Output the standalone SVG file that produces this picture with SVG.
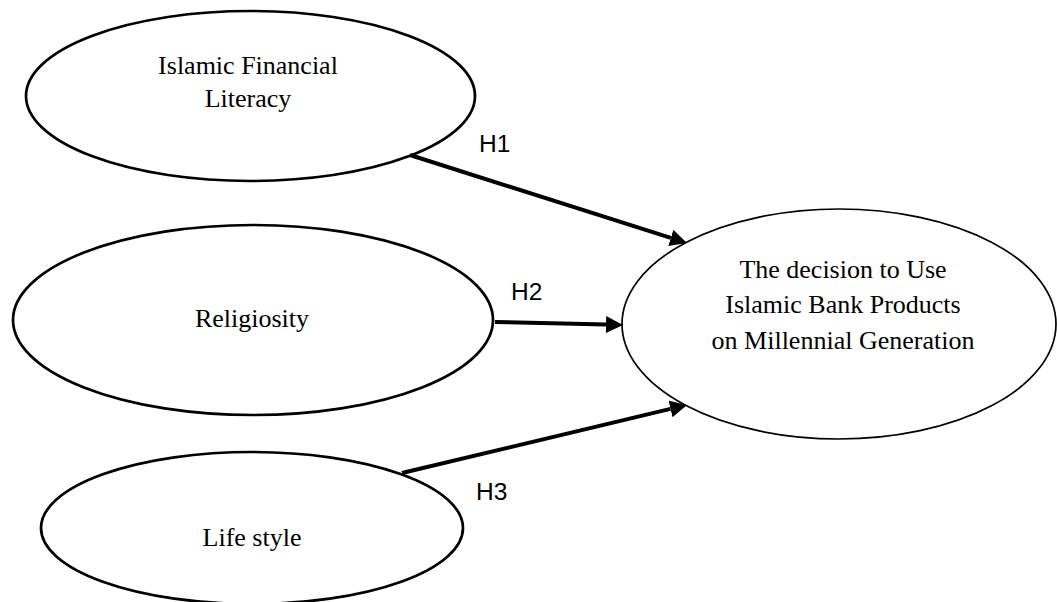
<svg xmlns="http://www.w3.org/2000/svg" width="1057" height="602" viewBox="0 0 1057 602">
<style>
.node ellipse{fill:#fff;stroke:#000;stroke-width:2.7}
.node.target ellipse{stroke-width:1.7}
.lbl{font-family:"Liberation Serif","Times New Roman",serif;font-size:26px;fill:#000;text-anchor:middle}
.hyp{font-family:"Liberation Sans",Arial,sans-serif;font-size:24.5px;fill:#000}
.edge{stroke:#000;stroke-width:4;fill:none}
</style>
<defs>
<marker id="arrow" markerUnits="userSpaceOnUse" markerWidth="18" markerHeight="18" refX="0" refY="8.5" orient="auto">
<path d="M0,0 L17,8.5 L0,17 z" fill="#000"/>
</marker>
</defs>
<rect width="1057" height="602" fill="#fff"/>
<g id="n-ifl" class="node">
<ellipse cx="250.5" cy="96" rx="224.5" ry="85"/>
<text class="lbl" x="248" y="74">Islamic Financial</text>
<text class="lbl" x="248" y="107">Literacy</text>
</g>
<g id="n-rel" class="node">
<ellipse cx="253" cy="320" rx="240" ry="95"/>
<text class="lbl" x="252" y="327">Religiosity</text>
</g>
<g id="n-life" class="node">
<ellipse cx="252" cy="528" rx="211" ry="76"/>
<text class="lbl" x="252" y="546">Life style</text>
</g>
<g id="n-dec" class="node target">
<ellipse cx="839" cy="324" rx="217" ry="115"/>
<text class="lbl" x="843" y="278">The decision to Use</text>
<text class="lbl" x="843" y="313">Islamic Bank Products</text>
<text class="lbl" x="843" y="349">on Millennial Generation</text>
</g>
<g id="connectors">
<line class="edge" x1="410" y1="155" x2="670.8" y2="237.9" marker-end="url(#arrow)"/>
<line class="edge" x1="495" y1="322" x2="606" y2="324.6" marker-end="url(#arrow)"/>
<line class="edge" x1="402" y1="473" x2="670.5" y2="408.9" marker-end="url(#arrow)"/>
<text class="hyp" x="479" y="152">H1</text>
<text class="hyp" x="511" y="300">H2</text>
<text class="hyp" x="476" y="500">H3</text>
</g>
</svg>
